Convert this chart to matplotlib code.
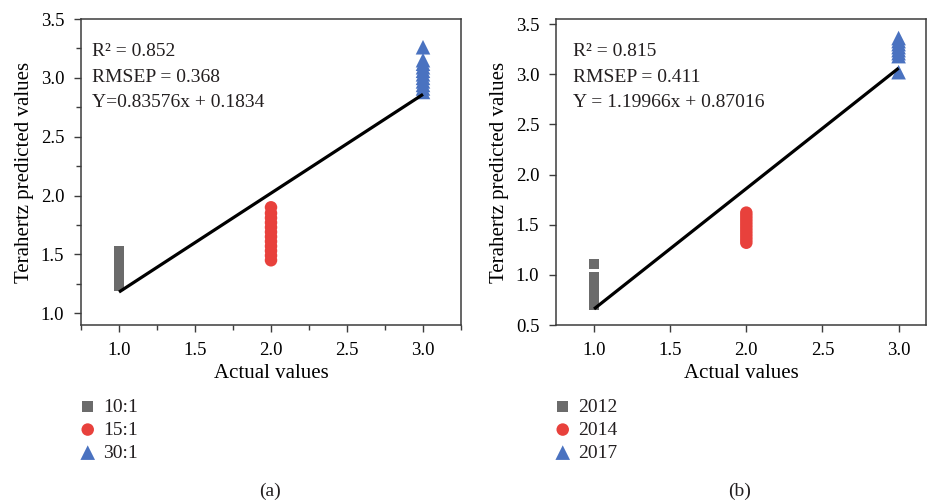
import numpy as np
import matplotlib
matplotlib.use("Agg")
import matplotlib.pyplot as plt
from matplotlib.ticker import MultipleLocator

plt.rcParams['font.family'] = ['Liberation Serif', 'DejaVu Serif']
plt.rcParams['text.color'] = '#231f20'

# panel (a): mixing ratio groups
a_labels = ["10:1", "15:1", "30:1"]
a_x = [1.0, 2.0, 3.0]
a_y = [
    [1.23, 1.26, 1.29, 1.32, 1.35, 1.38, 1.41, 1.44, 1.47, 1.50, 1.525],
    [1.45, 1.49, 1.53, 1.57, 1.61, 1.65, 1.69, 1.73, 1.77, 1.81, 1.85, 1.90],
    [2.88, 2.91, 2.94, 2.97, 3.00, 3.03, 3.06, 3.09, 3.12, 3.15, 3.26],
]
a_fit_x = [1.0, 3.0]
a_fit_y = [1.18, 2.86]
a_text = ["R² = 0.852", "RMSEP = 0.368", "Y=0.83576x + 0.1834"]

# panel (b): year groups
b_labels = ["2012", "2014", "2017"]
b_x = [1.0, 2.0, 3.0]
b_y = [
    [0.70, 0.73, 0.76, 0.79, 0.82, 0.85, 0.88, 0.91, 0.94, 0.98, 1.11],
    [1.32, 1.35, 1.38, 1.41, 1.44, 1.47, 1.50, 1.53, 1.56, 1.59, 1.62],
    [3.02, 3.18, 3.21, 3.24, 3.27, 3.30, 3.33, 3.36],
]
b_fit_x = [1.0, 3.0]
b_fit_y = [0.66, 3.06]
b_text = ["R² = 0.815", "RMSEP = 0.411", "Y = 1.19966x + 0.87016"]

colors = ["#6b6b6b", "#e8413c", "#4a72c0"]
markers = ["s", "o", "^"]
msizes = [7.6, 9.0, 10.5]
spine_c = "#3c3c3c"
fs = 14

fig = plt.figure(figsize=(9.28, 5.04), dpi=100)
W, H = 928, 504
ax1 = fig.add_axes([81 / W, 1 - 325 / H, 380 / W, 306 / H])
ax2 = fig.add_axes([556 / W, 1 - 325 / H, 370 / W, 306 / H])


def draw_panel(ax, xs, ys, labels, fit_x, fit_y, xlim, ylim, minor):
    handles = []
    for i in range(3):
        h = ax.scatter([xs[i]] * len(ys[i]), ys[i], marker=markers[i], s=msizes[i] ** 2,
                       color=colors[i], edgecolors='none', zorder=3, label=labels[i])
        handles.append(h)
    ax.plot(fit_x, fit_y, color='black', lw=2.3, zorder=4, solid_capstyle='butt')
    ax.set_xlim(*xlim)
    ax.set_ylim(*ylim)
    ax.xaxis.set_major_locator(MultipleLocator(0.5))
    ax.yaxis.set_major_locator(MultipleLocator(0.5))
    ax.xaxis.set_major_formatter(plt.FormatStrFormatter('%.1f'))
    ax.yaxis.set_major_formatter(plt.FormatStrFormatter('%.1f'))
    if minor:
        ax.xaxis.set_minor_locator(MultipleLocator(0.25))
        ax.yaxis.set_minor_locator(MultipleLocator(0.25))
    ax.tick_params(which='major', direction='out', length=5, width=1, color=spine_c,
                   labelsize=13.5, pad=7)
    ax.tick_params(which='minor', direction='out', length=3.5, width=1, color=spine_c)
    for s in ax.spines.values():
        s.set_color(spine_c)
        s.set_linewidth(1.1)
    ax.set_xlabel("Actual values", fontsize=15, labelpad=4)
    ax.set_ylabel("Terahertz predicted values", fontsize=15, labelpad=5)
    return handles


h1 = draw_panel(ax1, a_x, a_y, a_labels, a_fit_x, a_fit_y,
                (0.75, 3.25), (0.9, 3.5), True)
h2 = draw_panel(ax2, b_x, b_y, b_labels, b_fit_x, b_fit_y,
                (0.75, 3.18), (0.5, 3.55), False)

for ax, texts, x0 in [(ax1, a_text, 0.029), (ax2, b_text, 0.046)]:
    for t, yb in zip(texts, [0.879, 0.794, 0.712]):
        ax.text(x0, yb, t, transform=ax.transAxes, fontsize=fs, va='baseline', ha='left')

for handles, labels, x0 in [(h1, a_labels, 78 / W), (h2, b_labels, 553 / W)]:
    fig.legend(handles, labels, loc='upper left', bbox_to_anchor=(x0, 1 - 398 / H),
               frameon=False, fontsize=fs, handlelength=1.0, handletextpad=0.3,
               labelspacing=0.28, borderpad=0, borderaxespad=0)

fig.text(270 / W, 1 - 491 / H, "(a)", fontsize=fs, ha='center', va='center')
fig.text(740 / W, 1 - 491 / H, "(b)", fontsize=fs, ha='center', va='center')

fig.savefig("out.png", dpi=100)
